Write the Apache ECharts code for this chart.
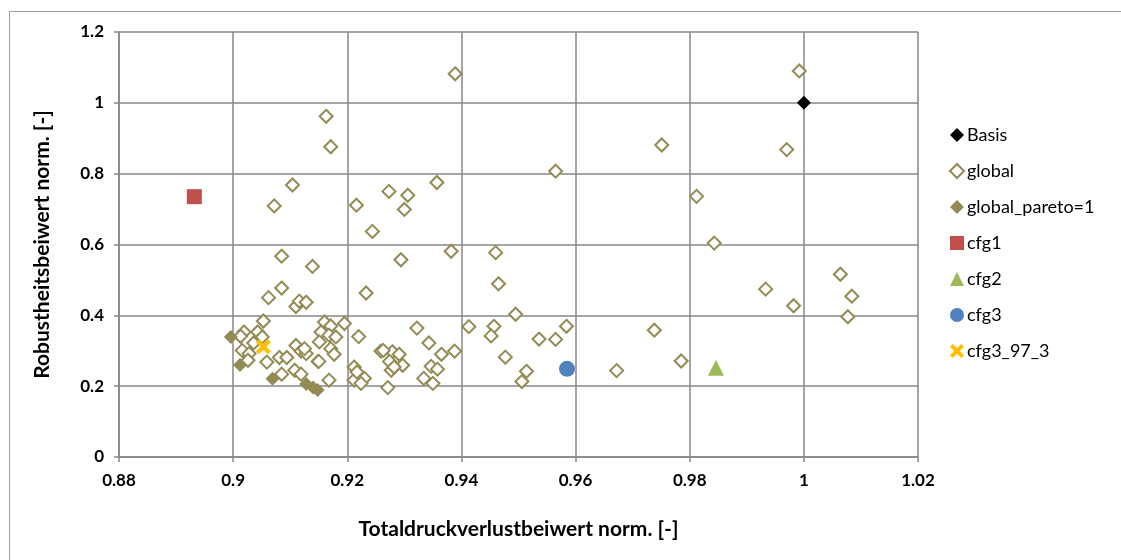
<!DOCTYPE html>
<html>
<head>
<meta charset="utf-8">
<script src="https://cdn.jsdelivr.net/npm/echarts@6/dist/echarts.min.js"></script>
<style>
html,body{margin:0;padding:0;background:#fff;}
#chart{width:1121px;height:560px;}
</style>
</head>
<body>
<div id="chart"></div>
<script>
// ---- data ----
const xTicks = [0.88, 0.9, 0.92, 0.94, 0.96, 0.98, 1, 1.02];
const yTicks = [0, 0.2, 0.4, 0.6, 0.8, 1, 1.2];

const basis = [[1.0, 1.0]];

const globalPts = [
  [0.9992,1.090],[0.9751,0.881],[0.9970,0.868],[0.9812,0.736],[0.9843,0.604],[1.0064,0.516],
  [1.0084,0.454],[0.9933,0.474],[0.9982,0.427],[1.0077,0.396],[0.9584,0.369],[0.9738,0.358],
  [0.9785,0.271],[0.9672,0.244],[0.9565,0.807],
  [0.9389,1.082],[0.9163,0.962],[0.9171,0.876],[0.9104,0.768],[0.9072,0.709],[0.9216,0.711],
  [0.9273,0.750],[0.9306,0.739],[0.9300,0.699],[0.9357,0.775],[0.9244,0.637],[0.9382,0.581],
  [0.9294,0.557],[0.9460,0.577],[0.9465,0.489],[0.9085,0.567],[0.9139,0.538],[0.9062,0.450],
  [0.9085,0.477],[0.9110,0.425],[0.9116,0.440],[0.9128,0.437],[0.9233,0.463],
  [0.9495,0.403],[0.9413,0.368],[0.9457,0.369],[0.9452,0.342],[0.9536,0.333],[0.9565,0.332],
  [0.9477,0.282],[0.9514,0.242],[0.9506,0.213],
  [0.9322,0.364],[0.9343,0.322],[0.9365,0.290],[0.9388,0.299],[0.9297,0.259],[0.9347,0.256],
  [0.9358,0.248],[0.9334,0.222],[0.9350,0.208],[0.9271,0.196],
  [0.9259,0.299],[0.9279,0.297],[0.9291,0.290],[0.9274,0.270],[0.9277,0.245],[0.9282,0.254],
  [0.9263,0.301],
  [0.9053,0.384],[0.9019,0.353],[0.9013,0.341],[0.9043,0.353],[0.9051,0.339],[0.9036,0.322],
  [0.9016,0.301],[0.9028,0.292],[0.9026,0.273],[0.9059,0.268],[0.9081,0.281],[0.9094,0.281],
  [0.9110,0.315],[0.9119,0.299],[0.9128,0.292],[0.9149,0.270],[0.9108,0.245],[0.9119,0.234],
  [0.9085,0.234],[0.9168,0.217],
  [0.9160,0.381],[0.9171,0.370],[0.9195,0.377],[0.9154,0.353],[0.9168,0.344],[0.9180,0.339],
  [0.9151,0.325],[0.9171,0.306],[0.9177,0.290],[0.9125,0.306],[0.9150,0.270],[0.9220,0.340],
  [0.9212,0.254],[0.9212,0.217],[0.9230,0.222],[0.9224,0.208],[0.9217,0.240]
];

const paretoPts = [[0.8996,0.339],[0.9012,0.260],[0.9069,0.221],[0.9128,0.206],[0.9140,0.196],[0.9148,0.189]];
const cfg1 = [[0.8932,0.735]];
const cfg2 = [[0.9846,0.252]];
const cfg3 = [[0.9585,0.249]];
const cfg3_97_3 = [[0.9053,0.311]];

const seriesNames = ['Basis','global','global_pareto=1','cfg1','cfg2','cfg3','cfg3_97_3'];

// ---- chart ----
const FONT = 'Lato, "Open Sans", sans-serif';
const OLIVE = '#948A54';
const crossPath = 'path://M0,2 L2,0 L5,3 L8,0 L10,2 L7,5 L10,8 L8,10 L5,7 L2,10 L0,8 L3,5 Z';
const chart = echarts.init(document.getElementById('chart'), null, {renderer:'canvas'});

const gridColor = '#878787';

chart.setOption({
  animation: false,
  backgroundColor: '#fff',
  graphic: [{
    type: 'rect', left: 7, top: 9, shape: {width: 1200, height: 700},
    style: {fill: 'none', stroke: '#9a9a9a', lineWidth: 1}, silent: true, z: -1
  }],
  grid: {left: 119, top: 32, right: 203, bottom: 103, containLabel: false},
  xAxis: {
    type: 'value', min: xTicks[0], max: xTicks[xTicks.length-1], interval: 0.02,
    name: 'Totaldruckverlustbeiwert norm. [-]', nameLocation: 'middle', nameGap: 62,
    nameTextStyle: {fontFamily: FONT, fontSize: 21, fontWeight: 'bold', color: '#000'},
    axisLine: {show: true, onZero: false, lineStyle: {color: gridColor, width: 1.5}},
    axisTick: {show: true, length: 5, lineStyle: {color: gridColor, width: 1.5}},
    splitLine: {show: true, lineStyle: {color: gridColor, width: 1.5}},
    axisLabel: {fontFamily: FONT, fontSize: 17, fontWeight: 'bold', color: '#000', margin: 15,
      formatter: v => String(parseFloat(v.toFixed(2)))}
  },
  yAxis: {
    type: 'value', min: yTicks[0], max: yTicks[yTicks.length-1], interval: 0.2,
    name: 'Robustheitsbeiwert norm. [-]', nameLocation: 'middle', nameGap: 66, nameRotate: 90,
    nameTextStyle: {fontFamily: FONT, fontSize: 21, fontWeight: 'bold', color: '#000'},
    axisLine: {show: true, lineStyle: {color: gridColor, width: 1.5}},
    axisTick: {show: true, length: 5, lineStyle: {color: gridColor, width: 1.5}},
    splitLine: {show: true, lineStyle: {color: gridColor, width: 1.5}},
    axisLabel: {fontFamily: FONT, fontSize: 17, fontWeight: 'bold', color: '#000', margin: 15,
      formatter: v => String(parseFloat(v.toFixed(1)))}
  },
  legend: {
    orient: 'vertical', left: 944, top: 121, itemGap: 18, itemWidth: 14, itemHeight: 14,
    textStyle: {fontFamily: FONT, fontSize: 18, color: '#000', padding: [0,0,0,-2]},
    data: seriesNames
  },
  series: [
    {name: seriesNames[1], type: 'scatter', data: globalPts, symbol: 'diamond', symbolSize: 13,
      itemStyle: {color: '#fff', borderColor: OLIVE, borderWidth: 2, opacity: 1}, z: 2},
    {name: seriesNames[2], type: 'scatter', data: paretoPts, symbol: 'diamond', symbolSize: 14,
      itemStyle: {color: OLIVE, opacity: 1}, z: 3},
    {name: seriesNames[0], type: 'scatter', data: basis, symbol: 'diamond', symbolSize: 14,
      itemStyle: {color: '#000', opacity: 1}, z: 4},
    {name: seriesNames[3], type: 'scatter', data: cfg1, symbol: 'rect', symbolSize: 15,
      itemStyle: {color: '#C0504D', opacity: 1}, z: 4},
    {name: seriesNames[4], type: 'scatter', data: cfg2, symbol: 'triangle', symbolSize: 16,
      itemStyle: {color: '#9BBB59', opacity: 1}, z: 4},
    {name: seriesNames[5], type: 'scatter', data: cfg3, symbol: 'circle', symbolSize: 16,
      itemStyle: {color: '#4F81BD', opacity: 1}, z: 4},
    {name: seriesNames[6], type: 'scatter', data: cfg3_97_3, symbol: crossPath, symbolSize: 15,
      itemStyle: {color: '#FFC000', opacity: 1}, z: 5}
  ]
});
</script>
</body>
</html>
